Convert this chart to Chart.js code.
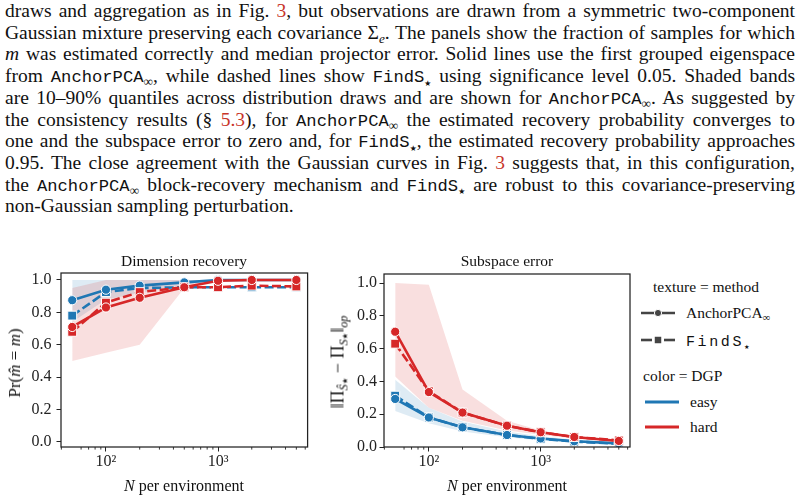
<!DOCTYPE html>
<html>
<head>
<meta charset="utf-8">
<script src="https://cdn.jsdelivr.net/npm/chart.js@4.4.1/dist/chart.umd.min.js"></script>
<style>
  html, body { margin: 0; padding: 0; background: #fff; }
  body { width: 806px; height: 500px; position: relative; overflow: hidden; font-family: 'Liberation Serif', serif; color: #111; }
  .ln { position: absolute; left: 5px; white-space: nowrap; font-size: 19.5px; line-height: 1; }
  .tt { font-family: 'Liberation Mono', monospace; font-size: 0.88em; }
  .ln sub, .lab sub, .leg sub { font-size: 0.68em; vertical-align: baseline; position: relative; top: 0.32em; line-height: 0; }
  .ln sub.star, .lab .star, .leg sub.star { font-family: 'DejaVu Sans', sans-serif; font-size: 0.4em; top: 0.45em; }
  .lab .star { font-size: 0.6em; }
  .ref { color: #c8352a; }
  canvas { position: absolute; }
  .lab { position: absolute; white-space: nowrap; transform: translate(-50%, -50%); }
  .rot { transform: translate(-50%, -50%) rotate(-90deg); }
  .leg { position: absolute; white-space: nowrap; font-size: 15.5px; transform: translateY(-50%); }
  .legsvg { position: absolute; transform: translateY(-50%); }
</style>
</head>
<body>
<div class="ln j" style="top:1px">draws and aggregation as in Fig. <span class="ref">3</span>, but observations are drawn from a symmetric two-component</div>
<div class="ln j" style="top:22.7px">Gaussian mixture preserving each covariance Σ<sub><i>e</i></sub>. The panels show the fraction of samples for which</div>
<div class="ln j" style="top:44.4px"><i>m</i> was estimated correctly and median projector error. Solid lines use the first grouped eigenspace</div>
<div class="ln j" style="top:66.1px">from <span class="tt">AnchorPCA</span><sub>∞</sub>, while dashed lines show <span class="tt">FindS</span><sub class="star">★</sub> using significance level 0.05. Shaded bands</div>
<div class="ln j" style="top:87.8px">are 10–90% quantiles across distribution draws and are shown for <span class="tt">AnchorPCA</span><sub>∞</sub>. As suggested by</div>
<div class="ln j" style="top:109.5px">the consistency results (§ <span class="ref">5.3</span>), for <span class="tt">AnchorPCA</span><sub>∞</sub> the estimated recovery probability converges to</div>
<div class="ln j" style="top:131.2px">one and the subspace error to zero and, for <span class="tt">FindS</span><sub class="star">★</sub>, the estimated recovery probability approaches</div>
<div class="ln j" style="top:152.9px">0.95. The close agreement with the Gaussian curves in Fig. <span class="ref">3</span> suggests that, in this configuration,</div>
<div class="ln j" style="top:174.6px">the <span class="tt">AnchorPCA</span><sub>∞</sub> block-recovery mechanism and <span class="tt">FindS</span><sub class="star">★</sub> are robust to this covariance-preserving</div>
<div class="ln" style="top:196.3px">non-Gaussian sampling perturbation.</div>

<canvas id="dimChart" width="320" height="260" style="left:0;top:240px"></canvas>
<canvas id="subChart" width="315" height="260" style="left:325px;top:240px"></canvas>

<div class="lab" style="left:184px;top:261px;font-size:15.5px">Dimension recovery</div>
<div class="lab" style="left:507px;top:261px;font-size:15.5px">Subspace error</div>
<div class="lab" style="left:184px;top:486px;font-size:16px"><i>N</i> per environment</div>
<div class="lab" style="left:507px;top:486px;font-size:16px"><i>N</i> per environment</div>
<div class="lab rot" style="left:15px;top:363px;font-size:17px">Pr(<i>m̂</i> = <i>m</i>)</div>
<div class="lab rot" style="left:338px;top:362px;font-size:18px">‖Π<sub><i>Ŝ</i><span class="star">★</span></sub> − Π<sub><i>S</i><span class="star">★</span></sub>‖<sub><i>op</i></sub></div>

<div class="leg" style="left:653px;top:287px">texture = method</div>
<svg class="legsvg" style="left:641px;top:313px" width="36" height="12">
  <line x1="0" y1="6" x2="34" y2="6" stroke="#444" stroke-width="2.6"/>
  <circle cx="17" cy="6" r="3.6" fill="#444" stroke="#fff" stroke-width="1"/>
</svg>
<div class="leg" style="left:686px;top:313px">AnchorPCA<sub>∞</sub></div>
<svg class="legsvg" style="left:641px;top:340px" width="36" height="12">
  <line x1="0" y1="6" x2="11" y2="6" stroke="#444" stroke-width="2.6"/>
  <line x1="23" y1="6" x2="34" y2="6" stroke="#444" stroke-width="2.6"/>
  <rect x="13.2" y="2.2" width="7.6" height="7.6" fill="#444" stroke="#fff" stroke-width="1"/>
</svg>
<div class="leg" style="left:686px;top:341px"><span style="font-family:'Liberation Mono',monospace;font-size:15px;letter-spacing:2.6px">FindS</span><sub class="star">★</sub></div>
<div class="leg" style="left:643px;top:376px">color = DGP</div>
<svg class="legsvg" style="left:645px;top:402px" width="36" height="8">
  <line x1="0" y1="4" x2="34" y2="4" stroke="#1f77b4" stroke-width="3"/>
</svg>
<div class="leg" style="left:690px;top:402px">easy</div>
<svg class="legsvg" style="left:645px;top:427px" width="36" height="8">
  <line x1="0" y1="4" x2="34" y2="4" stroke="#d62728" stroke-width="3"/>
</svg>
<div class="leg" style="left:690px;top:427px">hard</div>

<script>
// sample sizes per environment
const nValues = [50, 100, 200, 500, 1000, 2000, 5000]

// Dimension recovery: Pr(m_hat = m)
const dimEasyAnchor = [0.875, 0.94, 0.965, 0.985, 1.0, 1.0, 1.0]
const dimEasyFind = [0.78, 0.925, 0.95, 0.955, 0.955, 0.955, 0.955]
const dimHardAnchor = [0.71, 0.83, 0.89, 0.955, 0.995, 1.0, 1.0]
const dimHardFind = [0.68, 0.86, 0.925, 0.955, 0.955, 0.965, 0.96]
// 10-90% bands (AnchorPCA only)
const dimEasyLo = [0.74, 0.88, 0.92, 0.97, 1.0, 1.0, 1.0]
const dimEasyHi = [1.0, 1.0, 1.0, 1.0, 1.0, 1.0, 1.0]
const dimHardLo = [0.50, 0.55, 0.60, 0.95, 1.0, 1.0, 1.0]
const dimHardHi = [0.95, 1.0, 1.0, 1.0, 1.0, 1.0, 1.0]

// Subspace error: ||Pi_hat - Pi||_op
const subEasyAnchor = [0.293, 0.18, 0.12, 0.073, 0.052, 0.035, 0.022]
const subEasyFind = [0.313, 0.18, 0.12, 0.073, 0.05, 0.033, 0.02]
const subHardAnchor = [0.703, 0.335, 0.21, 0.13, 0.09, 0.061, 0.037]
const subHardFind = [0.63, 0.34, 0.21, 0.13, 0.09, 0.061, 0.04]
const subEasyLo = [0.22, 0.145, 0.095, 0.06, 0.04, 0.028, 0.015]
const subEasyHi = [0.41, 0.24, 0.155, 0.095, 0.065, 0.045, 0.028]
const subHardLo = [0.43, 0.24, 0.16, 0.10, 0.075, 0.05, 0.03]
const subHardHi = [1.0, 0.99, 0.35, 0.16, 0.10, 0.065, 0.045]

// ticks
const xMajorTicks = [100, 1000]
const xTickLabels = ['10²', '10³']
const xMinorTicks = [40, 60, 70, 80, 90, 200, 300, 400, 500, 600, 700, 800, 900, 2000, 3000, 4000, 5000, 6000]
const yTicks = [0, 0.2, 0.4, 0.6, 0.8, 1.0]

const BLUE = '#1f77b4'
const RED = '#d62728'
const BLUE_BAND = 'rgba(31,119,180,0.15)'
const RED_BAND = 'rgba(214,39,40,0.15)'
const FONT = "'Liberation Serif', serif"

Chart.defaults.font.family = FONT
Chart.defaults.font.size = 16
Chart.defaults.color = '#222'

const pts = arr => arr.map((v, i) => ({ x: nValues[i], y: v }))

const frame = {
  id: 'frame',
  afterDraw(chart) {
    const { ctx, chartArea: a } = chart
    const x = chart.scales.x
    ctx.save()
    ctx.strokeStyle = '#222'
    ctx.lineWidth = 0.9
    xMinorTicks.forEach(v => {
      const px = x.getPixelForValue(v)
      if (px < a.left || px > a.right) return
      ctx.beginPath()
      ctx.moveTo(px, a.bottom)
      ctx.lineTo(px, a.bottom + 2.6)
      ctx.stroke()
    })
    ctx.lineWidth = 1.25
    ctx.strokeRect(a.left, a.top, a.right - a.left, a.bottom - a.top)
    ctx.restore()
  }
}

function band(lo, hi, color, order) {
  return [
    { data: pts(lo), borderWidth: 0, borderColor: 'transparent', pointRadius: 0, fill: false, order },
    { data: pts(hi), borderWidth: 0, borderColor: 'transparent', pointRadius: 0, fill: '-1', backgroundColor: color, order }
  ]
}

function line(values, color, dashed, order) {
  return {
    data: pts(values),
    borderColor: color,
    borderWidth: 2.6,
    borderDash: dashed ? [9, 3.5] : [],
    pointStyle: dashed ? 'rect' : 'circle',
    pointRadius: dashed ? 6.3 : 4.6,
    pointBackgroundColor: color,
    pointBorderColor: '#fff',
    pointBorderWidth: 1,
    fill: false,
    tension: 0,
    order
  }
}

function makeChart(id, series, yMin, yMax, pad, yWidth, yPad) {
  return new Chart(document.getElementById(id), {
    type: 'line',
    data: {
      datasets: [
        ...band(series.easyLo, series.easyHi, BLUE_BAND, 9),
        ...band(series.hardLo, series.hardHi, RED_BAND, 8),
        line(series.easyFind, BLUE, true, 5),
        line(series.easyAnchor, BLUE, false, 4),
        line(series.hardFind, RED, true, 2),
        line(series.hardAnchor, RED, false, 1)
      ]
    },
    options: {
      responsive: false,
      animation: false,
      layout: { padding: pad },
      plugins: { legend: { display: false }, tooltip: { enabled: false }, title: { display: false } },
      scales: {
        x: {
          type: 'logarithmic',
          min: 39.7,
          max: 6300,
          afterBuildTicks(s) { s.ticks = xMajorTicks.map(v => ({ value: v })) },
          afterFit(s) { s.height = 53 },
          border: { display: false },
          grid: { drawOnChartArea: false, drawTicks: true, tickLength: 4.5, tickColor: '#222', tickWidth: 1 },
          ticks: {
            autoSkip: false, maxRotation: 0, padding: 1, color: '#222',
            font: { family: FONT, size: 16 },
            callback: (v, i) => xTickLabels[i]
          }
        },
        y: {
          min: yMin,
          max: yMax,
          afterBuildTicks(s) { s.ticks = yTicks.map(v => ({ value: v })) },
          afterFit(s) { s.width = yWidth },
          border: { display: false },
          grid: { drawOnChartArea: false, drawTicks: true, tickLength: 4.5, tickColor: '#222', tickWidth: 1 },
          ticks: {
            padding: yPad, color: '#222',
            font: { family: FONT, size: 16 },
            callback: v => v.toFixed(1)
          }
        }
      }
    },
    plugins: [frame]
  })
}

makeChart('dimChart', {
  easyAnchor: dimEasyAnchor, easyFind: dimEasyFind, hardAnchor: dimHardAnchor, hardFind: dimHardFind,
  easyLo: dimEasyLo, easyHi: dimEasyHi, hardLo: dimHardLo, hardHi: dimHardHi
}, -0.031, 1.043, { left: 0, right: 12.4, top: 33, bottom: 0 }, 61, 5)

makeChart('subChart', {
  easyAnchor: subEasyAnchor, easyFind: subEasyFind, hardAnchor: subHardAnchor, hardFind: subHardFind,
  easyLo: subEasyLo, easyHi: subEasyHi, hardLo: subHardLo, hardHi: subHardHi
}, 0, 1.055, { left: 0, right: 10, top: 34, bottom: 0 }, 59, 2.5)

// justify each caption line to the full column width, like LaTeX
function justify() {
  const target = 790
  document.querySelectorAll('.ln.j').forEach(el => {
    el.style.wordSpacing = '0px'
    const natural = el.getBoundingClientRect().width
    const spaces = (el.textContent.match(/ /g) || []).length
    if (spaces) el.style.wordSpacing = ((target - natural) / spaces) + 'px'
  })
}
justify()
if (document.fonts) document.fonts.ready.then(justify)
</script>
</body>
</html>
